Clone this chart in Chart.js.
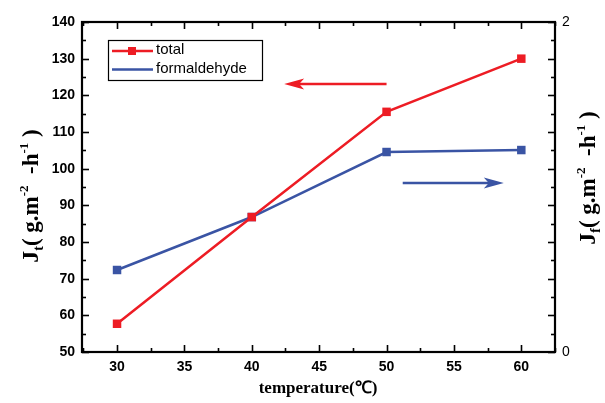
<!DOCTYPE html>
<html><head><meta charset="utf-8">
<script src="https://cdn.jsdelivr.net/npm/chart.js@4"></script>
<style>html,body{margin:0;padding:0;background:#fff}canvas{display:block}</style>
</head><body>
<canvas id="c" width="605" height="403"></canvas>
<script>
const temps = [30, 40, 50, 60];
const totalFlux = [57.7, 86.8, 115.5, 130.0];
const formaldehydeFlux = [0.497, 0.818, 1.212, 1.224];
const xTicks = [30, 35, 40, 45, 50, 55, 60];
const leftTicks = [50, 60, 70, 80, 90, 100, 110, 120, 130, 140];
const rightTickLabels = [0, 2];
const seriesNames = ['total', 'formaldehyde'];
const RED = '#ed1c24', BLUE = '#3a54a4';

const decor = {
  id: 'decor',
  afterDraw(chart) {
    const ctx = chart.ctx, a = chart.chartArea;
    const x = chart.scales.x, y = chart.scales.y, y2 = chart.scales.y2;
    ctx.save();
    ctx.strokeStyle = '#000'; ctx.lineWidth = 2.2;
    ctx.strokeRect(a.left, a.top, a.right - a.left, a.bottom - a.top);
    ctx.lineWidth = 1.6;
    for (let v = 27.5; v <= 62.5; v += 2.5) {
      if (v < x.min || v > x.max) continue;
      const px = Math.round(x.getPixelForValue(v)) + 0.5;
      const len = (v % 5 === 0) ? 7 : 4;
      ctx.beginPath(); ctx.moveTo(px, a.bottom); ctx.lineTo(px, a.bottom - len);
      ctx.moveTo(px, a.top); ctx.lineTo(px, a.top + len); ctx.stroke();
    }
    for (let v = 50; v <= 140; v += 5) {
      const py = Math.round(y.getPixelForValue(v)) + 0.5;
      const len = (v % 10 === 0) ? 7 : 4;
      ctx.beginPath(); ctx.moveTo(a.left, py); ctx.lineTo(a.left + len, py); ctx.stroke();
    }
    for (let i = 0; i <= 18; i++) {
      const py = Math.round(y2.getPixelForValue(i * 2 / 18)) + 0.5;
      const len = (i % 2 === 0) ? 7 : 4;
      ctx.beginPath(); ctx.moveTo(a.right, py); ctx.lineTo(a.right - len, py); ctx.stroke();
    }
    function arrow(x1, y1, x2, y2p, col) {
      const dir = Math.sign(x2 - x1);
      ctx.strokeStyle = col; ctx.fillStyle = col; ctx.lineWidth = 2.5;
      ctx.beginPath(); ctx.moveTo(x1, y1); ctx.lineTo(x2 - dir * 14, y2p); ctx.stroke();
      ctx.beginPath(); ctx.moveTo(x2, y2p); ctx.lineTo(x2 - dir * 20, y2p - 5.5);
      ctx.lineTo(x2 - dir * 15, y2p); ctx.lineTo(x2 - dir * 20, y2p + 5.5); ctx.closePath(); ctx.fill();
    }
    arrow(x.getPixelForValue(50.0), y.getPixelForValue(123.1), x.getPixelForValue(42.4), y.getPixelForValue(123.1), RED);
    arrow(x.getPixelForValue(51.2), y.getPixelForValue(96.1), x.getPixelForValue(58.7), y.getPixelForValue(96.1), BLUE);
    ctx.strokeStyle = '#000'; ctx.lineWidth = 1.2;
    ctx.strokeRect(108.5, 40.5, 154, 40);
    ctx.lineWidth = 2.5;
    ctx.strokeStyle = RED; ctx.beginPath(); ctx.moveTo(112, 51); ctx.lineTo(153, 51); ctx.stroke();
    ctx.fillStyle = RED; ctx.fillRect(128, 47, 8, 8);
    ctx.strokeStyle = BLUE; ctx.beginPath(); ctx.moveTo(112, 69.5); ctx.lineTo(153, 69.5); ctx.stroke();
    ctx.fillStyle = '#000'; ctx.font = '15px "Liberation Sans", Arial, sans-serif';
    ctx.textBaseline = 'middle'; ctx.textAlign = 'left';
    ctx.fillText(seriesNames[0], 156, 50);
    ctx.fillText(seriesNames[1], 156, 69);
    function richText(parts, cx, cy, rot) {
      ctx.save(); ctx.translate(cx, cy); ctx.rotate(rot);
      let w = 0;
      parts.forEach(p => { ctx.font = 'bold ' + p.s + 'px "Liberation Serif", "Times New Roman", serif'; p.w = ctx.measureText(p.t).width; w += p.w; });
      let xx = -w / 2;
      ctx.textAlign = 'left'; ctx.textBaseline = 'alphabetic'; ctx.fillStyle = '#000';
      parts.forEach(p => { ctx.font = 'bold ' + p.s + 'px "Liberation Serif", "Times New Roman", serif'; ctx.fillText(p.t, xx, 8 + (p.dy || 0)); xx += p.w; });
      ctx.restore();
    }
    const unitParts = sub => [
      {t: 'J', s: 24}, {t: sub, s: 14, dy: 5}, {t: '( g.m', s: 23}, {t: '-2', s: 13, dy: -10},
      {t: '  -h', s: 23}, {t: '-1', s: 13, dy: -10}, {t: ' )', s: 23}];
    richText(unitParts('t'), 30, 196, -Math.PI / 2);
    richText(unitParts('f'), 587, 178, -Math.PI / 2);
    ctx.fillStyle = '#000'; ctx.textAlign = 'center'; ctx.textBaseline = 'middle';
    ctx.font = 'bold 17px "Liberation Serif", "Times New Roman", serif';
    ctx.fillText('temperature(\u2103)', 318, 389);
    ctx.restore();
  }
};

new Chart(document.getElementById('c'), {
  type: 'line',
  data: {
    datasets: [
      { label: seriesNames[0], data: temps.map((t, i) => ({x: t, y: totalFlux[i]})), yAxisID: 'y',
        borderColor: RED, backgroundColor: RED, borderWidth: 2.5, pointStyle: 'rect', pointRadius: 6, pointBorderWidth: 0, tension: 0 },
      { label: seriesNames[1], data: temps.map((t, i) => ({x: t, y: formaldehydeFlux[i]})), yAxisID: 'y2',
        borderColor: BLUE, backgroundColor: BLUE, borderWidth: 2.5, pointStyle: 'rect', pointRadius: 6, pointBorderWidth: 0, tension: 0 }
    ]
  },
  options: {
    responsive: false, animation: false,
    layout: {padding: {top: 22, left: 0, right: 0, bottom: 0}},
    plugins: {legend: {display: false}, tooltip: {enabled: false}},
    scales: {
      x: {
        type: 'linear', min: 27.4, max: 62.5,
        afterBuildTicks: s => { s.ticks = xTicks.map(v => ({value: v})); },
        afterFit: s => { s.height = 51; },
        grid: {display: false, drawTicks: false}, border: {display: false},
        ticks: {padding: 7, color: '#000', font: {family: '"Liberation Sans", Arial, sans-serif', weight: 'bold', size: 14}}
      },
      y: {
        position: 'left', min: 50, max: 140,
        afterBuildTicks: s => { s.ticks = leftTicks.map(v => ({value: v})); },
        afterFit: s => { s.width = 82; },
        grid: {display: false, drawTicks: false}, border: {display: false},
        ticks: {padding: 7, color: '#000', font: {family: '"Liberation Sans", Arial, sans-serif', weight: 'bold', size: 14}}
      },
      y2: {
        position: 'right', min: 0, max: 2,
        afterBuildTicks: s => { s.ticks = rightTickLabels.map(v => ({value: v})); },
        afterFit: s => { s.width = 50; },
        grid: {display: false, drawTicks: false}, border: {display: false},
        ticks: {padding: 7, color: '#000', font: {family: '"Liberation Sans", Arial, sans-serif', size: 14}}
      }
    }
  },
  plugins: [decor]
});
</script>
</body></html>
